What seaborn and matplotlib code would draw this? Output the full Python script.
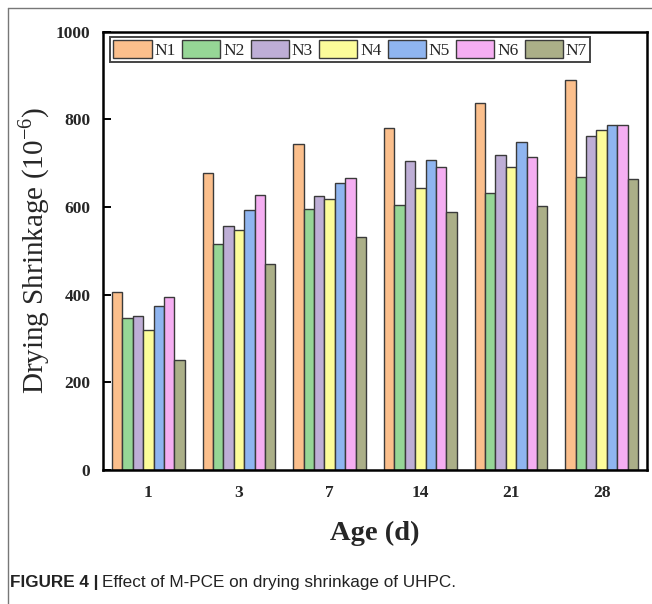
import matplotlib
matplotlib.use("Agg")
import matplotlib.pyplot as plt
import seaborn as sns
import pandas as pd
from matplotlib.lines import Line2D

ages = ["1", "3", "7", "14", "21", "28"]
mixes = ["N1", "N2", "N3", "N4", "N5", "N6", "N7"]
N1 = [405, 678, 744, 781, 837, 890]
N2 = [347, 516, 595, 604, 632, 669]
N3 = [352, 556, 626, 705, 718, 762]
N4 = [319, 547, 619, 643, 691, 775]
N5 = [374, 593, 655, 707, 749, 788]
N6 = [395, 628, 667, 691, 713, 788]
N7 = [252, 471, 532, 588, 602, 665]
colors = ['#FBBF8C', '#96D696', '#BEAED6', '#FCFC9A', '#8FB5F0', '#F5AEF2', '#ABAF88']

series = [N1, N2, N3, N4, N5, N6, N7]
rows = []
for m, vals in zip(mixes, series):
    for a, v in zip(ages, vals):
        rows.append({"Age": a, "Mix": m, "Shrinkage": v})
df = pd.DataFrame(rows)

sns.set_theme(style="white")
plt.rcParams['font.family'] = ['Liberation Serif', 'DejaVu Serif']
plt.rcParams['mathtext.fontset'] = 'custom'
plt.rcParams['mathtext.rm'] = 'Liberation Serif'

fig = plt.figure(figsize=(6.52, 6.04), dpi=100)
ax = fig.add_axes([103/652, 1 - 470/604, (647-103)/652, (470-31.7)/604])

sns.barplot(data=df, x="Age", y="Shrinkage", hue="Mix", order=ages, hue_order=mixes,
            palette=colors, edgecolor="#3a3a3a", linewidth=1.0, width=0.8,
            saturation=1, ax=ax)

ax.set_xlim(-0.5, 5.5)
ax.set_ylim(0, 1000)
ax.set_yticks([0, 200, 400, 600, 800, 1000])
for s in ax.spines.values():
    s.set_visible(True)
    s.set_color("black")
    s.set_linewidth(1.8)
ax.tick_params(axis="both", direction="in", length=6, width=1.4, color="black",
               labelsize=12.5, pad=9)
ax.tick_params(axis="y", left=True)
ax.tick_params(axis="x", bottom=True, pad=11)
for lab in ax.get_xticklabels() + ax.get_yticklabels():
    lab.set_fontweight("bold")

ax.set_xlabel("Age (d)", fontsize=20.5, fontweight="bold", labelpad=14)
ax.set_ylabel("Drying Shrinkage (10$^{\\mathregular{-6}}$)", fontsize=21, fontweight="normal")
ax.yaxis.set_label_coords(-0.094, 0.5)

handles, labels = ax.get_legend_handles_labels()
leg = ax.legend(handles, labels, ncol=7, loc="upper left", bbox_to_anchor=(0.003, 1.0),
                fontsize=12.5, frameon=True, fancybox=False, framealpha=1,
                edgecolor="#444444", handlelength=2.2, handleheight=1.15,
                handletextpad=0.17, columnspacing=0.35, borderpad=0.2,
                borderaxespad=0.3)
leg.get_frame().set_linewidth(1.4)

# outer frame lines
fig.add_artist(Line2D([8/652, 8/652], [0, 1 - 8/604], transform=fig.transFigure,
                      color="#777777", linewidth=1))
fig.add_artist(Line2D([8/652, 1], [1 - 8/604, 1 - 8/604], transform=fig.transFigure,
                      color="#777777", linewidth=1))

# caption
t1 = fig.text(10/652, 1 - 583/604, "FIGURE 4 |", fontsize=12.3, fontweight="bold",
              family=["Liberation Sans", "DejaVu Sans"], va="center", ha="left", color="#222222")
fig.canvas.draw()
bb = t1.get_window_extent()
fig.text((bb.x1 + 4) / fig.bbox.width, 1 - 583/604, "Effect of M-PCE on drying shrinkage of UHPC.",
         fontsize=12.3, family=["Liberation Sans", "DejaVu Sans"], va="center", ha="left",
         color="#222222")

fig.savefig("out.png", dpi=100)
